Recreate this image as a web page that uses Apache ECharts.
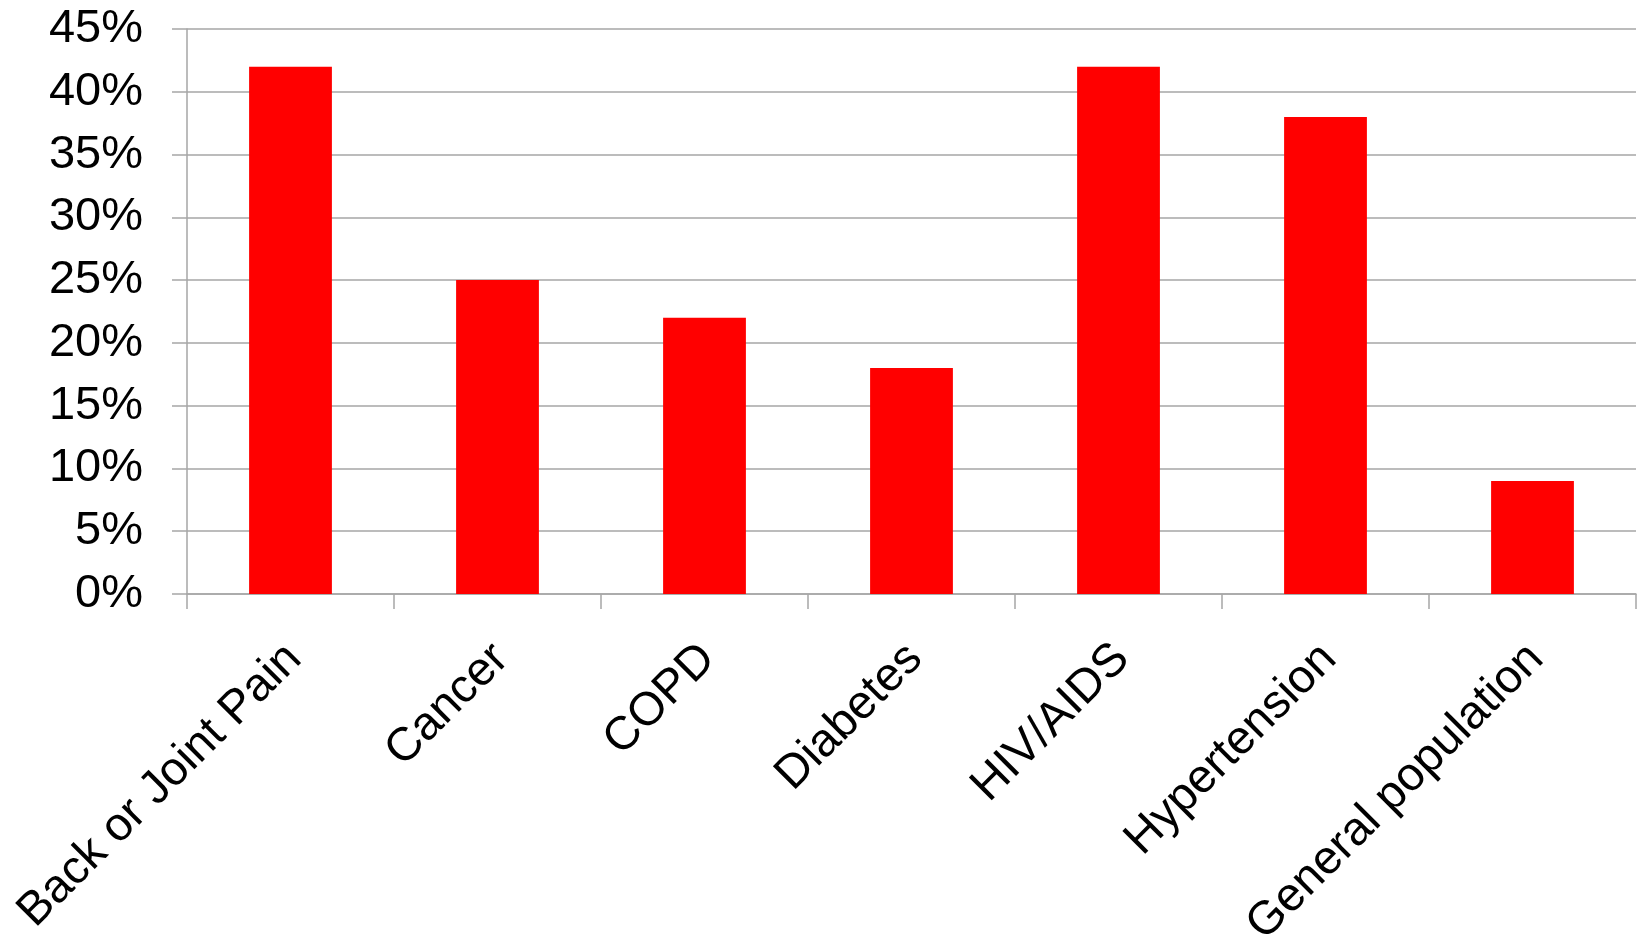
<!DOCTYPE html>
<html>
<head>
<meta charset="utf-8">
<script src="https://cdn.jsdelivr.net/npm/echarts@6/dist/echarts.min.js"></script>
<style>
html,body{margin:0;padding:0;background:#fff;}
#chart{width:1637px;height:934px;}
</style>
</head>
<body>
<div id="chart"></div>
<script>
const categories = ["Back or Joint Pain", "Cancer", "COPD", "Diabetes", "HIV/AIDS", "Hypertension", "General population"];
const values = [42, 25, 22, 18, 42, 38, 9];
const yMin = 0, yMax = 45, yStep = 5;

const lineColor = '#a6a6a6';
const chart = echarts.init(document.getElementById('chart'), null, {renderer: 'canvas'});
chart.setOption({
  backgroundColor: '#ffffff',
  animation: false,
  grid: {left: 187, right: 1, top: 29, bottom: 340, containLabel: false, outerBoundsMode: 'none'},
  xAxis: {
    type: 'category',
    data: categories,
    boundaryGap: true,
    axisLine: {show: true, lineStyle: {color: lineColor, width: 1.5}},
    axisTick: {show: true, alignWithLabel: false, length: 15, lineStyle: {color: lineColor, width: 1.5}},
    axisLabel: {
      interval: 0,
      rotate: 45,
      margin: 54,
      verticalAlign: 'top',
      lineHeight: 10,
      color: '#000',
      fontFamily: 'Liberation Sans, Arial, sans-serif',
      fontSize: 47
    },
    splitLine: {show: false}
  },
  yAxis: {
    type: 'value',
    min: yMin,
    max: yMax,
    interval: yStep,
    axisLine: {show: true, lineStyle: {color: lineColor, width: 1.5}},
    axisTick: {show: true, inside: false, length: 15, lineStyle: {color: lineColor, width: 1.5}},
    axisLabel: {
      formatter: '{value}%',
      margin: 44,
      color: '#000',
      fontFamily: 'Liberation Sans, Arial, sans-serif',
      fontSize: 47
    },
    splitLine: {show: true, lineStyle: {color: lineColor, width: 1.5}}
  },
  series: [{
    type: 'bar',
    data: values,
    barWidth: '40%',
    itemStyle: {color: '#ff0000'}
  }]
});
</script>
</body>
</html>
